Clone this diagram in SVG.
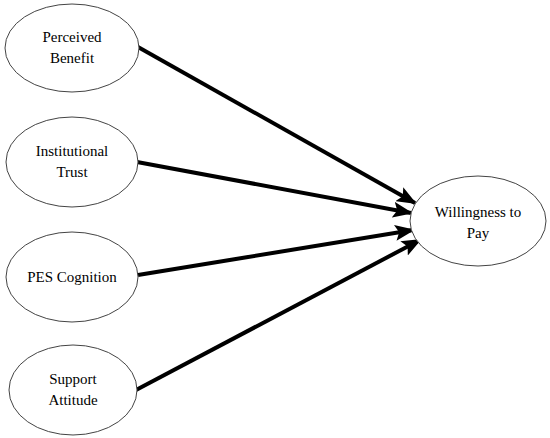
<svg xmlns="http://www.w3.org/2000/svg" width="550" height="438" viewBox="0 0 550 438">
<style>
.n{fill:#fff;stroke:#444;stroke-width:1}
.t{font-family:"Liberation Serif","Times New Roman",serif;font-size:15px;fill:#000;text-anchor:middle}
.c{stroke:#000;stroke-width:4;fill:none;marker-end:url(#ah)}
</style>
<defs>
<marker id="ah" markerUnits="userSpaceOnUse" markerWidth="20" markerHeight="16" refX="18" refY="8" orient="auto" viewBox="0 0 20 16">
<path d="M0,0 L20,8 L0,16 L4,8 Z" fill="#000"/>
</marker>
</defs>
<rect width="550" height="438" fill="#fff"/>
<g id="connectors">
<line class="c" x1="138" y1="47" x2="415" y2="203"/>
<line class="c" x1="137" y1="162" x2="411" y2="213"/>
<line class="c" x1="138" y1="275" x2="413" y2="230"/>
<line class="c" x1="136" y1="390" x2="420" y2="240"/>
</g>
<g id="perceived-benefit">
<ellipse class="n" cx="72" cy="48" rx="67" ry="44"/>
<text class="t" x="72" y="42">Perceived</text>
<text class="t" x="72" y="63">Benefit</text>
</g>
<g id="institutional-trust">
<ellipse class="n" cx="72" cy="162" rx="66" ry="45"/>
<text class="t" x="72" y="156">Institutional</text>
<text class="t" x="72" y="177">Trust</text>
</g>
<g id="pes-cognition">
<ellipse class="n" cx="72" cy="277" rx="66" ry="45"/>
<text class="t" x="72" y="282">PES Cognition</text>
</g>
<g id="support-attitude">
<ellipse class="n" cx="73" cy="390" rx="64" ry="45"/>
<text class="t" x="73" y="384">Support</text>
<text class="t" x="73" y="405">Attitude</text>
</g>
<g id="willingness-to-pay">
<ellipse class="n" cx="478" cy="221" rx="68" ry="45"/>
<text class="t" x="478" y="217">Willingness to</text>
<text class="t" x="478" y="238">Pay</text>
</g>
</svg>
